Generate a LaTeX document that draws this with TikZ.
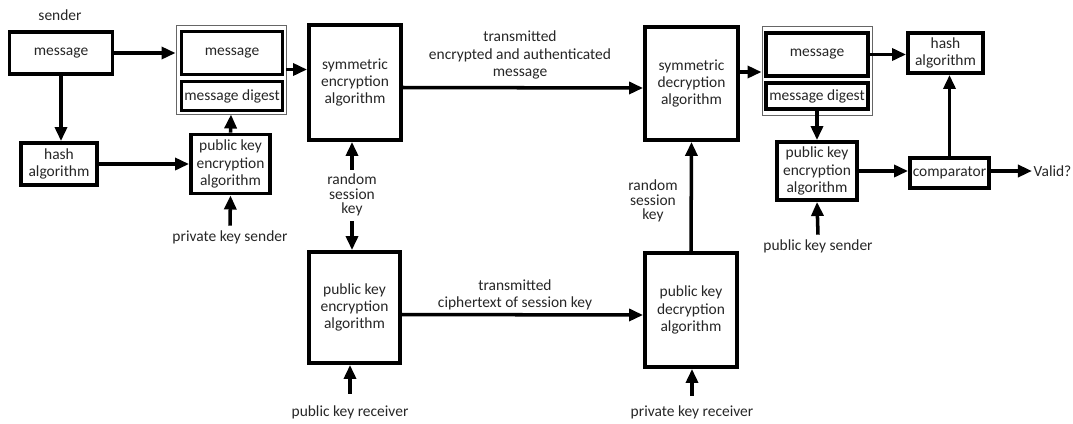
\documentclass[tikz,border=0pt]{standalone}
\usepackage{fontspec}
\setmainfont{Carlito}
\usetikzlibrary{arrows.meta}
\def\px{0.025cm}
\tikzset{
  blk/.style 2 args={draw, line width=2.7pt, minimum width=#1*\px, minimum height=#2*\px,
    inner sep=0pt, align=center, text=black!85, font=\fontsize{11}{12.3}\selectfont},
  grp/.style 2 args={draw=black!60, line width=0.6pt, minimum width=#1*\px, minimum height=#2*\px, inner sep=0pt},
  lbl/.style={align=center, text=black!85, inner sep=1pt, font=\fontsize{11}{12.3}\selectfont},
  arr/.style={-{Triangle[length=10pt,width=8.5pt]}, line width=2.5pt},
  ln/.style={line width=2.5pt}
}
\begin{document}
\begin{tikzpicture}[x=\px,y=-\px]
      \useasboundingbox (0,0) rectangle (1073,423);
      % sender side
      \node[lbl] (snd) at (60,15) {sender};
      \node[blk={103}{42}] (msgA) at (61,53) {message};
      \node[blk={76}{42}] (hashA) at (59,164) {hash\\algorithm};
      \node[grp={110}{89}] (grpA) at (231,69.5) {};
      \node[blk={101}{43}] (msgB) at (232,53) {message};
      \node[blk={101}{29}] (mdB) at (232,96) {message digest};
      \node[blk={79}{59}] (pkeA) at (230.5,164) {public key\\encryption\\algorithm};
      \node[lbl] (privS) at (230,237) {private key sender};
      \draw[arr] (msgA.east) -- (msgA.east -| grpA.west);
      \draw[arr] (msgA.south) -- (msgA.south |- hashA.north);
      \draw[arr] (hashA.east) -- (hashA.east -| pkeA.west);
      \draw[arr] (pkeA.north) -- (grpA.south);
      \draw[arr] (privS.north) ++(0,-3) -- (pkeA.south);
      % session key
      \node[blk={92}{115}] (symE) at (355,82.5) {symmetric\\encryption\\algorithm};
      \node[lbl, font=\fontsize{11}{10.5}\selectfont] (rskA) at (352,195) {random\\session\\key};
      \node[blk={91}{111}] (pkeB) at (354.5,307.5) {public key\\encryption\\algorithm};
      \node[lbl] (pubR) at (350,412) {public key receiver};
      \draw[arr] (grpA.east) -- (grpA.east -| symE.west);
      \draw[arr] (rskA.north) ++(0,-2) -- (rskA.north |- symE.south);
      \draw[arr] (rskA.south) ++(0,3) -- (rskA.south |- pkeB.north);
      \draw[arr] (pubR.north) ++(0,-10) -- (pubR.north |- pkeB.south);
      % receiver side
      \node[blk={93}{113}] (symD) at (691.5,83.5) {symmetric\\decryption\\algorithm};
      \node[blk={92}{114}] (pkdR) at (691,310) {public key\\decryption\\algorithm};
      \node[lbl, font=\fontsize{11}{10.5}\selectfont] (rskB) at (653,201) {random\\session\\key};
      \node[lbl] (privR) at (692,412) {private key receiver};
      \draw[arr] (symE.east) ++(0,5) -- (symD.west |- 0,88);
      \node[lbl] (txA) at (520,55) {transmitted\\encrypted and authenticated\\message};
      \draw[arr] (pkeB.east) ++(0,7) -- (pkdR.west |- 0,315);
      \node[lbl] (txB) at (515,295) {transmitted\\ciphertext of session key};
      \draw[arr] (pkdR.north) -- (symD.south);
      \draw[arr] (privR.north) ++(0,-8) -- (privR.north |- pkdR.south);
      % verification
      \node[grp={110}{89}] (grpB) at (817,70.5) {};
      \node[blk={102}{43}] (msgC) at (817,54.5) {message};
      \node[blk={102}{26}] (mdC) at (817,96) {message digest};
      \node[blk={75}{40}] (hashB) at (945.5,53) {hash\\algorithm};
      \node[blk={80}{58}] (pkeC) at (817,171) {public key\\encryption\\algorithm};
      \node[lbl] (pubS) at (818,246) {public key sender};
      \node[blk={79}{30}] (cmp) at (949.5,173) {comparator};
      \node[lbl, anchor=west] (valid) at (1032,171) {Valid?};
      \draw[arr] (symD.east |- 0,72) -- (grpB.west |- 0,72);
      \draw[arr] (msgC.east) -- (msgC.east -| hashB.west);
      \draw[arr] (mdC.south) -- (pkeC.north);
      \draw[arr] (pubS.north) ++(0,-3) -- (pkeC.south);
      \draw[arr] (pkeC.east) -- (pkeC.east -| cmp.west);
      \draw[arr] (cmp.north) -- (cmp.north |- hashB.south);
      \draw[arr] (cmp.east |- valid.west) -- (valid.west);
\end{tikzpicture}
\end{document}
